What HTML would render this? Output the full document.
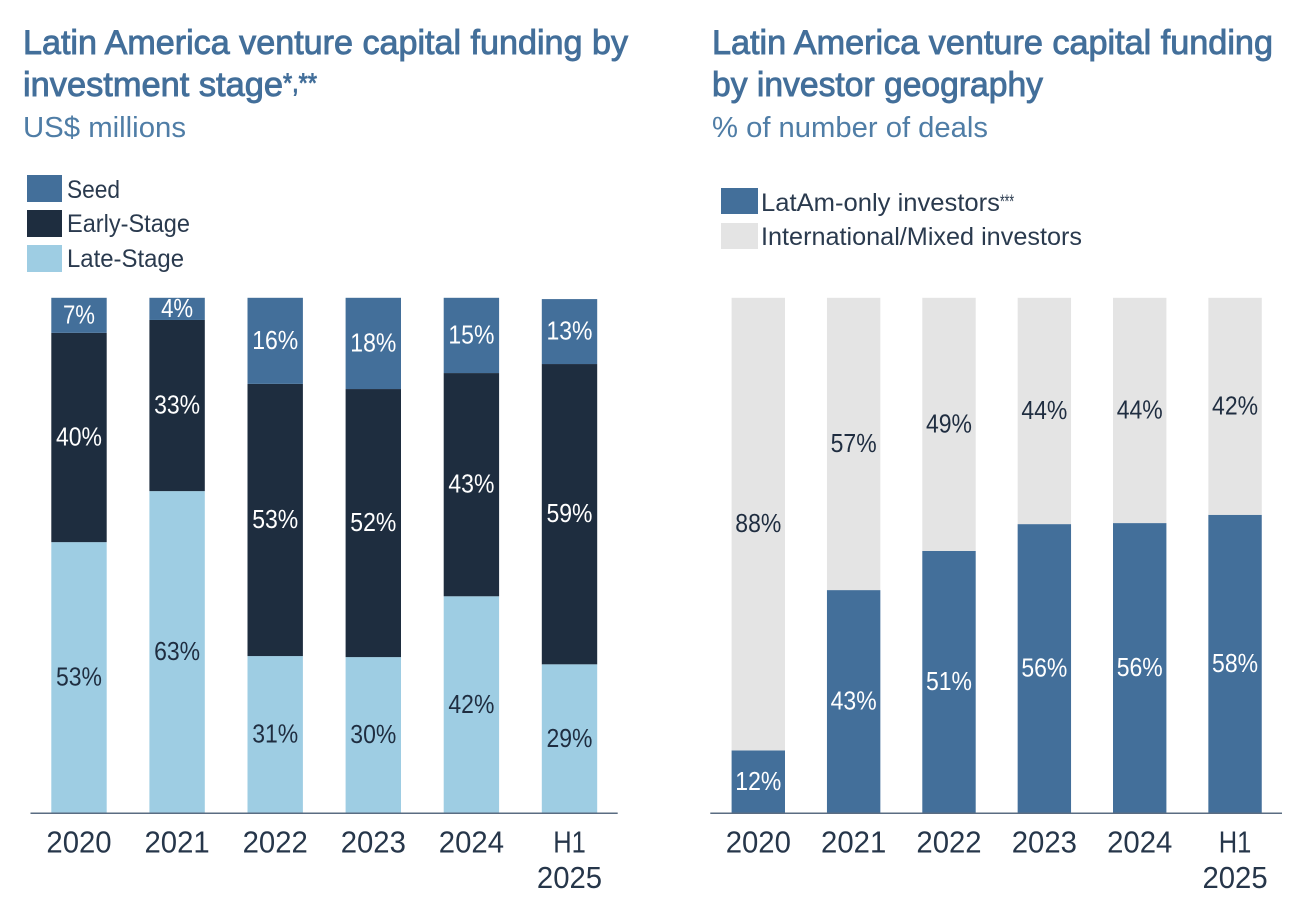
<!DOCTYPE html>
<html lang="en">
<head>
<meta charset="utf-8">
<title>Latin America venture capital funding</title>
<style>
  html, body { margin: 0; padding: 0; background: #ffffff; }
  body { width: 1308px; height: 904px; overflow: hidden; }
  svg { display: block; font-family: "Liberation Sans", Arial, sans-serif; filter: blur(0.35px); }
  .title { font-size: 34px; fill: #436f9a; stroke: #436f9a; stroke-width: 0.9px; }
  .subtitle { font-size: 28.5px; fill: #4f7da6; }
  .legend-text { font-size: 25px; fill: #2a3a4e; }
  .tick { font-size: 31px; fill: #26364a; }
</style>
</head>
<body>
<svg id="chart" width="1308" height="904" viewBox="0 0 1308 904" xmlns="http://www.w3.org/2000/svg">
  <rect x="0" y="0" width="1308" height="904" fill="#ffffff"/>

  <text class="title" x="23" y="54" textLength="605" lengthAdjust="spacingAndGlyphs">Latin America venture capital funding by</text>
  <text class="title" x="23" y="96" textLength="260" lengthAdjust="spacingAndGlyphs">investment stage</text>
  <text class="title" style="font-size:27px" x="283" y="92" textLength="34" lengthAdjust="spacingAndGlyphs">*,**</text>
  <text class="subtitle" x="23" y="137" textLength="163" lengthAdjust="spacingAndGlyphs">US$ millions</text>

  <text class="title" x="712" y="54" textLength="561" lengthAdjust="spacingAndGlyphs">Latin America venture capital funding</text>
  <text class="title" x="712" y="96" textLength="331" lengthAdjust="spacingAndGlyphs">by investor geography</text>
  <text class="subtitle" x="712" y="137" textLength="276" lengthAdjust="spacingAndGlyphs">% of number of deals</text>

  <rect x="27" y="175" width="35" height="27" fill="#436f9a"/>
  <text class="legend-text" x="67" y="198" textLength="53" lengthAdjust="spacingAndGlyphs">Seed</text>
  <rect x="27" y="210" width="35" height="27" fill="#1e2d3f"/>
  <text class="legend-text" x="67" y="232" textLength="123" lengthAdjust="spacingAndGlyphs">Early-Stage</text>
  <rect x="27" y="245" width="35" height="27" fill="#9ecde3"/>
  <text class="legend-text" x="67" y="267" textLength="117" lengthAdjust="spacingAndGlyphs">Late-Stage</text>

  <rect x="721" y="188" width="37" height="26" fill="#436f9a"/>
  <text class="legend-text" x="761" y="211" textLength="239" lengthAdjust="spacingAndGlyphs">LatAm-only investors</text>
  <text class="legend-text" style="font-size:19px" x="1000" y="208" textLength="14" lengthAdjust="spacingAndGlyphs">***</text>
  <rect x="721" y="223" width="37" height="26" fill="#e4e4e4"/>
  <text class="legend-text" x="761" y="245" textLength="321" lengthAdjust="spacingAndGlyphs">International/Mixed investors</text>
</svg>

<script>
// Shared categories
const categories = ['2020', '2021', '2022', '2023', '2024', 'H1 2025'];

// Left chart: investment stage, bar heights (% of stack)
const lateStage = [52.6, 62.5, 30.5, 30.3, 42.1, 28.9];
const earlyStage = [40.6, 33.2, 52.8, 52.0, 43.3, 58.25];
const seedStage = [6.8, 4.3, 16.7, 17.7, 14.6, 12.6];

// Left chart: printed labels
const lateLabels = ['53%', '63%', '31%', '30%', '42%', '29%'];
const earlyLabels = ['40%', '33%', '53%', '52%', '43%', '59%'];
const seedLabels = ['7%', '4%', '16%', '18%', '15%', '13%'];

// Right chart: investor geography, bar heights (% of stack)
const latamOnly = [12.2, 43.3, 50.9, 56.1, 56.3, 57.9];
const internationalMixed = [87.8, 56.7, 49.1, 43.9, 43.7, 42.1];

// Right chart: printed labels
const latamLabels = ['12%', '43%', '51%', '56%', '56%', '58%'];
const internationalLabels = ['88%', '57%', '49%', '44%', '44%', '42%'];

const SVG_NS = 'http://www.w3.org/2000/svg';
const svg = document.getElementById('chart');
const BASELINE = 813.3;
const PX_PER_PCT = 5.155;
const COLORS = { seed: '#436f9a', early: '#1e2d3f', late: '#9ecde3', gray: '#e4e4e4', dark: '#1f2d40', axis: '#5a6c82' };

function yScale(v) { return BASELINE - v * PX_PER_PCT; }
function leftBarX(i) { return 51.3 + 98.1 * i; }
function rightBarX(i) { return 731.6 + 95.35 * i; }

function drawSegment(name, x, w, bottomValue, value, fill) {
  const el = document.createElementNS(SVG_NS, 'rect');
  
  
  el.setAttribute('x', x);
  el.setAttribute('y', yScale(bottomValue + value));
  el.setAttribute('width', w);
  el.setAttribute('height', value * PX_PER_PCT);
  el.setAttribute('fill', fill);
  svg.appendChild(el);
}

function drawValueLabel(name, cx, bottomValue, value, text, fill) {
  const el = document.createElementNS(SVG_NS, 'text');
  
  
  el.setAttribute('x', cx);
  el.setAttribute('y', yScale(bottomValue + value / 2) + 8);
  el.setAttribute('text-anchor', 'middle');
  el.setAttribute('font-size', '25.5');
  el.setAttribute('textLength', text.length === 2 ? 32 : 46);
  el.setAttribute('lengthAdjust', 'spacingAndGlyphs');
  el.setAttribute('fill', fill);
  el.textContent = text;
  svg.appendChild(el);
}

function drawStack(chart, barX, barW, series) {
  categories.forEach(function (category, i) {
    let bottom = 0;
    series.forEach(function (s) {
      const slug = chart + '-' + s.key + '-' + category.toLowerCase().replace(' ', '-');
      drawSegment('bar-' + slug, barX(i), barW, bottom, s.values[i], s.fill);
      drawValueLabel('value-' + slug, barX(i) + barW / 2, bottom, s.values[i], s.labels[i], s.text);
      bottom += s.values[i];
    });
  });
}

function drawAxis(name, x1, x2) {
  const el = document.createElementNS(SVG_NS, 'line');
  
  
  el.setAttribute('x1', x1);
  el.setAttribute('x2', x2);
  el.setAttribute('y1', BASELINE);
  el.setAttribute('y2', BASELINE);
  el.setAttribute('stroke', COLORS.axis);
  el.setAttribute('stroke-width', '1.5');
  svg.appendChild(el);
}

function drawTicks(chart, barX, barW) {
  categories.forEach(function (category, i) {
    category.split(' ').forEach(function (line, j) {
      const el = document.createElementNS(SVG_NS, 'text');
      
      
      el.setAttribute('class', 'tick');
      el.setAttribute('x', barX(i) + barW / 2);
      el.setAttribute('y', 852.7 + j * 35.5);
      el.setAttribute('text-anchor', 'middle');
      el.setAttribute('textLength', line.length * 16.3);
      el.setAttribute('lengthAdjust', 'spacingAndGlyphs');
      el.textContent = line;
      svg.appendChild(el);
    });
  });
}

drawStack('stage', leftBarX, 55.4, [
  { key: 'late', values: lateStage, labels: lateLabels, fill: COLORS.late, text: COLORS.dark },
  { key: 'early', values: earlyStage, labels: earlyLabels, fill: COLORS.early, text: '#ffffff' },
  { key: 'seed', values: seedStage, labels: seedLabels, fill: COLORS.seed, text: '#ffffff' }
]);
drawStack('geography', rightBarX, 53.4, [
  { key: 'latam', values: latamOnly, labels: latamLabels, fill: COLORS.seed, text: '#ffffff' },
  { key: 'international', values: internationalMixed, labels: internationalLabels, fill: COLORS.gray, text: COLORS.dark }
]);

drawAxis('stage-x-axis', 30.5, 617.7);
drawAxis('geography-x-axis', 710.3, 1282);
drawTicks('stage', leftBarX, 55.4);
drawTicks('geography', rightBarX, 53.4);
</script>
</body>
</html>
